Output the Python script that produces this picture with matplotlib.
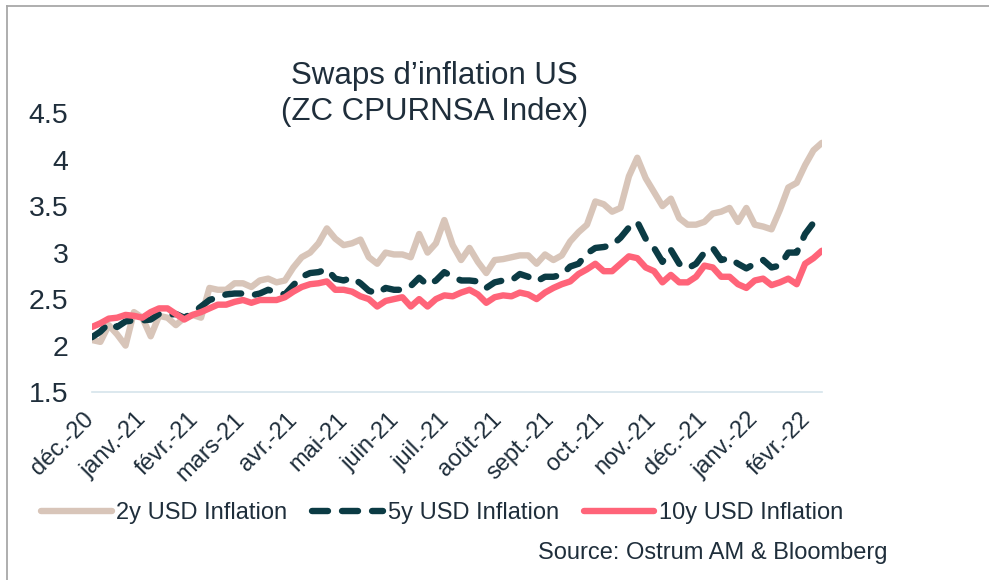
import numpy as np
import pandas as pd
import matplotlib
matplotlib.use("Agg")
import matplotlib.pyplot as plt
import matplotlib.transforms as mtransforms
from matplotlib.lines import Line2D

plt.rcParams["font.family"] = ["Liberation Sans", "DejaVu Sans"]

# readings every 5 days from 1 Dec 2020
start = "2020-12-01"

infl_2y = [
    2.06, 2.04, 2.22, 2.12, 2.00, 2.36, 2.30, 2.10, 2.32, 2.30,
    2.22, 2.30, 2.33, 2.30, 2.62, 2.60, 2.60, 2.67, 2.67, 2.63,
    2.70, 2.72, 2.68, 2.70, 2.84, 2.95, 3.00, 3.10, 3.26, 3.15,
    3.08, 3.10, 3.14, 2.95, 2.88, 3.00, 2.98, 2.98, 2.95, 3.20,
    3.00, 3.10, 3.35, 3.08, 2.92, 3.05, 2.90, 2.78, 2.92, 2.93,
    2.95, 2.97, 2.97, 2.88, 2.98, 2.92, 2.97, 3.12, 3.22, 3.30,
    3.55, 3.52, 3.44, 3.48, 3.82, 4.02, 3.80, 3.65, 3.50, 3.58,
    3.37, 3.30, 3.30, 3.33, 3.42, 3.44, 3.48, 3.33, 3.48, 3.30,
    3.28, 3.25, 3.46, 3.70, 3.75, 3.94, 4.10, 4.18,
]

infl_5y = [
    2.09, 2.15, 2.24, 2.20, 2.26, 2.27, 2.27, 2.28, 2.34, 2.33,
    2.34, 2.30, 2.35, 2.42, 2.49, 2.52, 2.55, 2.56, 2.56, 2.54,
    2.56, 2.60, 2.57, 2.55, 2.65, 2.74, 2.78, 2.79, 2.82, 2.72,
    2.70, 2.73, 2.67, 2.59, 2.56, 2.62, 2.60, 2.60, 2.64, 2.73,
    2.65, 2.70, 2.79, 2.74, 2.70, 2.70, 2.69, 2.62, 2.68, 2.70,
    2.70, 2.77, 2.74, 2.69, 2.74, 2.74, 2.76, 2.85, 2.88, 2.99,
    3.05, 3.06, 3.08, 3.16, 3.27, 3.33, 3.15, 3.05, 2.90, 3.03,
    2.88, 2.83, 2.88, 3.00, 3.05, 2.92, 2.94, 2.88, 2.83, 2.88,
    2.92, 2.84, 2.86, 3.00, 3.00, 3.20, 3.32, 3.40,
]

infl_10y = [
    2.20, 2.24, 2.29, 2.30, 2.33, 2.32, 2.30, 2.36, 2.40, 2.40,
    2.34, 2.28, 2.33, 2.36, 2.40, 2.44, 2.44, 2.47, 2.49, 2.46,
    2.49, 2.49, 2.49, 2.52, 2.58, 2.63, 2.66, 2.67, 2.69, 2.60,
    2.60, 2.58, 2.53, 2.50, 2.42, 2.48, 2.50, 2.52, 2.42, 2.50,
    2.42, 2.50, 2.54, 2.53, 2.57, 2.60, 2.55, 2.46, 2.52, 2.54,
    2.53, 2.57, 2.55, 2.50, 2.57, 2.62, 2.66, 2.69, 2.77, 2.82,
    2.88, 2.80, 2.80, 2.88, 2.96, 2.94, 2.84, 2.80, 2.68, 2.76,
    2.68, 2.68, 2.74, 2.86, 2.84, 2.74, 2.74, 2.66, 2.62, 2.70,
    2.72, 2.65, 2.68, 2.72, 2.66, 2.88, 2.94, 3.02,
]

labels = ["2y USD Inflation", "5y USD Inflation", "10y USD Inflation"]
month_labels = ["déc.-20", "janv.-21", "févr.-21", "mars-21", "avr.-21",
                "mai-21", "juin-21", "juil.-21", "août-21", "sept.-21",
                "oct.-21", "nov.-21", "déc.-21", "janv.-22", "févr.-22"]
yticks = [1.5, 2, 2.5, 3, 3.5, 4, 4.5]

dates = pd.date_range(start, periods=len(infl_2y), freq="5D")
months = pd.date_range(start, periods=len(month_labels), freq="MS")

text_col = "#1f2e3b"
fig = plt.figure(figsize=(9.89, 5.8), dpi=100)
ax = fig.add_axes([0.093, 0.324, 0.738, 0.481])

ax.plot(dates, infl_2y, color="#d8c5b9", lw=4.6, solid_capstyle="round",
        solid_joinstyle="round", label=labels[0])
ax.plot(dates, infl_5y, color="#0b3b44", lw=4.6, dashes=(2.5, 2.2),
        dash_capstyle="round", dash_joinstyle="round", label=labels[1])
ax.plot(dates, infl_10y, color="#ff6479", lw=4.6, solid_capstyle="round",
        solid_joinstyle="round", label=labels[2])

ax.set_ylim(1.5, 4.5)
ax.set_xlim(dates[0], dates[-1])
ax.set_yticks(yticks)
ax.set_yticklabels([f"{v:g}" for v in yticks], fontsize=20.5, color=text_col)
ax.set_xticks(months)
ax.set_xticklabels(month_labels, rotation=45, ha="right",
                   rotation_mode="anchor", fontsize=17, color=text_col)
ax.tick_params(axis="both", length=0)
ax.tick_params(axis="y", pad=17)
ax.tick_params(axis="x", pad=12)
shift = mtransforms.ScaledTranslation(-9 / 100, 0, fig.dpi_scale_trans)
for lab in ax.get_xticklabels():
    lab.set_transform(lab.get_transform() + shift)
for s in ["top", "right", "left"]:
    ax.spines[s].set_visible(False)
ax.spines["bottom"].set_color("#d5e4eb")
ax.spines["bottom"].set_linewidth(1.2)

fig.text(0.439, 1 - 76 / 580, "Swaps d’inflation US", ha="center",
         va="center", fontsize=22.5, color=text_col)
fig.text(0.439, 1 - 112 / 580, "(ZC CPURNSA Index)", ha="center",
         va="center", fontsize=22.5, color=text_col)

fig.legend(loc="center", bbox_to_anchor=(0.447, 1 - 513 / 580), ncol=3,
           frameon=False, fontsize=17, handlelength=3.0, handletextpad=0.2,
           columnspacing=1.05, labelcolor=text_col)

fig.text(887 / 989, 1 - 553 / 580, "Source: Ostrum AM & Bloomberg",
         ha="right", va="center", fontsize=17, color=text_col)

# outer frame (top and left edges)
fig.add_artist(Line2D([7 / 989, 1], [1 - 6 / 580, 1 - 6 / 580],
                      color="#a8a8a8", lw=1.3, transform=fig.transFigure))
fig.add_artist(Line2D([7 / 989, 7 / 989], [0, 1 - 6 / 580],
                      color="#a8a8a8", lw=1.3, transform=fig.transFigure))

fig.savefig("out.png", dpi=100)
